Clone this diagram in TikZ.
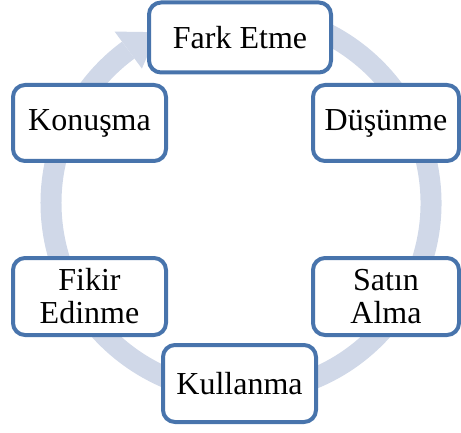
\documentclass[tikz,border=0pt]{standalone}
\usepackage{fontspec}
\setmainfont{Liberation Serif}
\definecolor{ringblue}{RGB}{208,216,232}
\definecolor{boxblue}{RGB}{72,116,172}
\tikzset{
  stagebox/.style={draw=boxblue, line width=4pt, fill=white, rounded corners=12pt,
    inner sep=0pt, align=center, font=\fontsize{32}{33}\selectfont},
  ring/.style={draw=ringblue, line width=21pt}
}
\begin{document}
\begin{tikzpicture}[x=1pt,y=1pt]
\useasboundingbox (0,0) rectangle (461,432);
% cycle ring with its arrowhead
\begin{scope}[shift={(241,229)}]
  \coordinate (ringc) at (0,0);
  \draw[ring] (100:190) arc[start angle=100, end angle=-233.6, radius=190];
  \fill[ringblue] (116:190) -- (126.4:213) -- (126.4:167) -- cycle;
\end{scope}
% stages
\node[stagebox, minimum width=182pt, minimum height=70pt] (fark) at (240,394.5) {Fark Etme};
\node[stagebox, minimum width=146pt, minimum height=76pt] (dusunme) at (386,309) {Düşünme};
\node[stagebox, minimum width=146pt, minimum height=77pt] (satin) at (386,135.5) {Satın\\Alma};
\node[stagebox, minimum width=153pt, minimum height=77pt] (kullanma) at (239.5,48.5) {Kullanma};
\node[stagebox, minimum width=153pt, minimum height=77pt] (fikir) at (89.5,135.5) {Fikir\\Edinme};
\node[stagebox, minimum width=153pt, minimum height=76pt] (konusma) at (89.5,309) {Konuşma};
\end{tikzpicture}
\end{document}
